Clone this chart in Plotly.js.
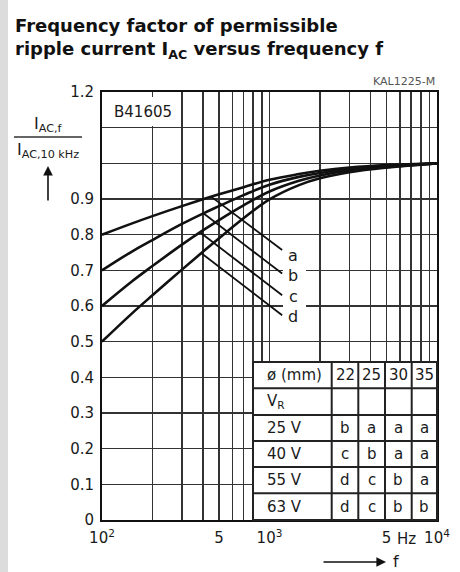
<!DOCTYPE html>
<html><head><meta charset="utf-8">
<script src="https://cdn.plot.ly/plotly-3.0.1.min.js"></script>
<style>html,body{margin:0;padding:0;background:#fff;}#chart{width:460px;height:572px;}</style>
</head><body><div id="chart"></div>
<script>
// ---- data ----
const freq   = [100, 150, 200, 300, 400, 500, 700, 1000, 1500, 2000, 3000, 5000, 10000];
const curveA = [0.800, 0.831, 0.852, 0.880, 0.899, 0.913, 0.933, 0.954, 0.970, 0.979, 0.988, 0.995, 1.0];
const curveB = [0.700, 0.752, 0.785, 0.830, 0.859, 0.880, 0.911, 0.940, 0.962, 0.973, 0.984, 0.992, 1.0];
const curveC = [0.600, 0.668, 0.712, 0.772, 0.812, 0.841, 0.882, 0.921, 0.951, 0.966, 0.980, 0.990, 1.0];
const curveD = [0.500, 0.578, 0.630, 0.702, 0.752, 0.790, 0.846, 0.899, 0.939, 0.958, 0.975, 0.988, 1.0];
const curveNames = ['a', 'b', 'c', 'd'];
const leaderStartF = [450, 403, 386, 392];
const leaderStartV = [0.906, 0.860, 0.806, 0.748];
const leaderEndF   = [1190, 1190, 1190, 1190];
const leaderEndV   = [0.757, 0.691, 0.630, 0.574];
const gridFreqs = [100,200,300,400,500,600,700,800,900,1000,2000,3000,4000,5000,6000,7000,8000,9000,10000];
const xTickText = ['10<sup>2</sup>','','','','5','','','','','10<sup>3</sup>','','','','5','','','','','10<sup>4</sup>'];
const yTickVals = [0,0.1,0.2,0.3,0.4,0.5,0.6,0.7,0.8,0.9,1.0,1.1,1.2];
const yTickText = ['0','0.1','0.2','0.3','0.4','0.5','0.6','0.7','0.8','0.9','','','1.2'];
const tableHeader = 'ø (mm)';
const tableSubHeader = 'V<sub>R</sub>';
const tableDiameters = ['22', '25', '30', '35'];
const tableVoltages = ['25 V', '40 V', '55 V', '63 V'];
const tableCodes = [['b','a','a','a'], ['c','b','a','a'], ['d','c','b','a'], ['d','c','b','b']];
const titleText = 'Frequency factor of permissible<br>ripple current I<sub>AC</sub> versus frequency f';
const yNum = 'I<sub>AC,f</sub>';
const yDen = 'I<sub>AC,10 kHz</sub>';
const typeCode = 'B41605';
const figCode = 'KAL1225-M';

// ---- layout geometry ----
const W = 460, H = 572, ML = 102, MR = 23, MT = 92, MB = 52;
const PW = W - ML - MR, PH = H - MT - MB;
const px2x = p => (p - ML) / PW;
const py2y = p => (H - MB - p) / PH;
const FONT = 'DejaVu Sans';
const INK = '#1a1a1a';

const curves = [curveA, curveB, curveC, curveD];
const traces = [];
curves.forEach((v, i) => traces.push({
  x: freq, y: v, type: 'scatter', mode: 'lines', name: curveNames[i],
  line: {color: '#111', width: 2.6, shape: 'spline', smoothing: 1.1}, hoverinfo: 'skip'
}));
curveNames.forEach((n, i) => traces.push({
  x: [leaderStartF[i], leaderEndF[i]], y: [leaderStartV[i], leaderEndV[i]],
  type: 'scatter', mode: 'lines', line: {color: '#111', width: 1.8}, hoverinfo: 'skip'
}));

const shapes = [];
const ann = [];
function rect(x0, y0, x1, y1, fill, lw, layer) {
  shapes.push({type: 'rect', xref: 'paper', yref: 'paper', x0: px2x(x0), x1: px2x(x1), y0: py2y(y1), y1: py2y(y0),
    fillcolor: fill, line: {width: lw || 0, color: '#222'}, layer: layer || 'above'});
}
function hline(x0, x1, y, w, c) {
  shapes.push({type: 'line', xref: 'paper', yref: 'paper', x0: px2x(x0), x1: px2x(x1), y0: py2y(y), y1: py2y(y),
    line: {width: w, color: c || '#222'}, layer: 'above'});
}
function vline(x, y0, y1, w, c) {
  shapes.push({type: 'line', xref: 'paper', yref: 'paper', x0: px2x(x), x1: px2x(x), y0: py2y(y0), y1: py2y(y1),
    line: {width: w, color: c || '#222'}, layer: 'above'});
}
function text(t, x, y, size, xa, extra) {
  ann.push(Object.assign({text: t, xref: 'paper', yref: 'paper', x: px2x(x), y: py2y(y), showarrow: false,
    xanchor: xa || 'center', yanchor: 'middle', font: {family: FONT, size: size, color: INK}}, extra || {}));
}

// grey strip at left edge
rect(0, 0, 8, H, '#dcdcdc', 0, 'below');

// title
ann.push({text: titleText, xref: 'paper', yref: 'paper', x: px2x(13), y: py2y(13), xanchor: 'left', yanchor: 'top',
  align: 'left', showarrow: false, font: {family: FONT, size: 18, color: '#111', weight: 'bold'}});

// type code box
rect(105, 97, 179, 126, '#fff', 0);
text(typeCode, 143, 112, 15);
text(figCode, 437, 82, 11, 'right', {font: {family: FONT, size: 11, color: '#555'}});

// curve labels
rect(283, 244, 306, 325, '#fff', 0);
const labelY = [255, 275, 296, 316];
curveNames.forEach((n, i) => text(n, 293, labelY[i], 16));

// table
const colX = [253, 331.7, 358.3, 385, 411.7, 437];
const rowY = [362, 388.3, 415, 441, 467, 493.3, 520];
rect(colX[0], rowY[0], colX[5], rowY[6], '#fff', 2);
for (let r = 1; r < rowY.length - 1; r++) hline(colX[0], colX[5], rowY[r], 2);
for (let c = 1; c < colX.length - 1; c++) vline(colX[c], rowY[0], rowY[6], 2);
const cy = r => (rowY[r] + rowY[r + 1]) / 2;
const cx = c => (colX[c + 1] + colX[c + 2]) / 2;
text(tableHeader, 265, cy(0), 15, 'left');
text(tableSubHeader, 265, cy(1), 15, 'left');
tableDiameters.forEach((d, c) => text(d, cx(c), cy(0), 15));
tableVoltages.forEach((v, r) => {
  text(v, 265, cy(r + 2), 15, 'left');
  tableCodes[r].forEach((code, c) => text(code, cx(c), cy(r + 2), 15));
});

// y-axis title as a fraction with arrow
text(yNum, 48, 124, 16);
text(yDen, 48, 150, 16);
hline(14, 82, 137, 1.6, '#333');
ann.push({text: '', xref: 'paper', yref: 'paper', x: px2x(48), y: py2y(166), ax: 0, ay: 36,
  showarrow: true, arrowhead: 2, arrowsize: 1.2, arrowwidth: 1.6, arrowcolor: '#111'});

// x-axis unit and arrow
text('Hz', 406, 539, 15);
ann.push({text: '', xref: 'paper', yref: 'paper', x: px2x(386), y: py2y(562), ax: -64, ay: 0,
  showarrow: true, arrowhead: 2, arrowsize: 1.2, arrowwidth: 1.6, arrowcolor: '#111'});
text('f', 396, 561, 16);

const layout = {
  width: W, height: H,
  margin: {l: ML, r: MR, t: MT, b: MB, pad: 0},
  paper_bgcolor: '#fff', plot_bgcolor: '#fff',
  showlegend: false,
  font: {family: FONT, size: 15, color: INK},
  xaxis: {type: 'log', range: [2, 4], tickmode: 'array', tickvals: gridFreqs, ticktext: xTickText,
    ticks: '', ticklabelstandoff: 3, showgrid: true, gridcolor: '#333', gridwidth: 1.6,
    showline: true, mirror: true, linecolor: '#111', linewidth: 2, zeroline: false, fixedrange: true,
    tickfont: {family: FONT, size: 15, color: INK}},
  yaxis: {range: [0, 1.2], tickmode: 'array', tickvals: yTickVals, ticktext: yTickText,
    ticks: '', ticklabelstandoff: 3, showgrid: true, gridcolor: '#333', gridwidth: 1.6,
    showline: true, mirror: true, linecolor: '#111', linewidth: 2, zeroline: false, fixedrange: true,
    tickfont: {family: FONT, size: 15, color: INK}},
  shapes: shapes,
  annotations: ann
};
Plotly.newPlot('chart', traces, layout, {displayModeBar: false, staticPlot: true});
</script></body></html>
